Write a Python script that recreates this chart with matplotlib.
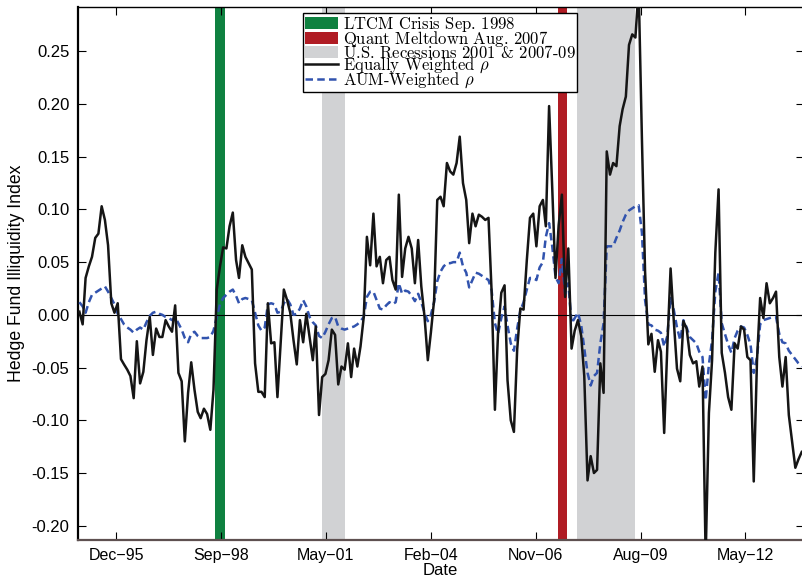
import numpy as np
import pandas as pd
import matplotlib
matplotlib.use('Agg')
from matplotlib import pyplot as plt
from matplotlib.patches import Patch
from matplotlib.lines import Line2D

plt.rcParams['font.family'] = ['Liberation Sans', 'DejaVu Sans']
plt.rcParams['mathtext.fontset'] = 'cm'
plt.rcParams['axes.unicode_minus'] = False

# monthly illiquidity index, first observation end of Dec 1994
first_month = '1994-12-31'

eq_rho = [
    0.003, -0.009, 0.035, 0.046, 0.055, 0.073, 0.077, 0.103, 0.090, 0.066,
    0.011, 0.002, 0.011, -0.042, -0.047, -0.052, -0.058, -0.079, -0.025, -0.065,
    -0.054, -0.024, -0.002, -0.038, -0.013, -0.021, -0.021, -0.005, -0.011, -0.016,
    0.009, -0.055, -0.063, -0.120, -0.074, -0.045, -0.071, -0.092, -0.098, -0.089,
    -0.094, -0.109, -0.071, 0.024, 0.046, 0.064, 0.063, 0.084, 0.097, 0.052,
    0.035, 0.066, 0.055, 0.049, 0.043, -0.046, -0.073, -0.073, -0.078, 0.011,
    -0.027, -0.026, -0.078, -0.026, 0.024, 0.014, 0.002, -0.024, -0.047, -0.005,
    -0.026, 0.001, -0.021, -0.043, -0.011, -0.095, -0.059, -0.056, -0.043, -0.014,
    -0.019, -0.066, -0.049, -0.052, -0.027, -0.059, -0.032, -0.049, -0.030, -0.002,
    0.074, 0.047, 0.096, 0.046, 0.055, 0.030, 0.052, 0.055, 0.033, 0.024,
    0.114, 0.036, 0.063, 0.074, 0.063, 0.030, 0.071, 0.027, -0.002, -0.043,
    -0.017, 0.014, 0.109, 0.112, 0.103, 0.144, 0.136, 0.133, 0.144, 0.169,
    0.125, 0.109, 0.068, 0.096, 0.084, 0.095, 0.093, 0.090, 0.092, 0.021,
    -0.090, -0.017, 0.021, 0.028, -0.062, -0.100, -0.111, -0.033, 0.006, 0.005,
    0.052, 0.092, 0.096, 0.065, 0.103, 0.109, 0.084, 0.198, 0.120, 0.035,
    0.085, 0.114, 0.017, 0.063, -0.032, -0.015, -0.005, -0.020, -0.058, -0.157,
    -0.134, -0.150, -0.147, -0.046, -0.074, 0.155, 0.133, 0.144, 0.141, 0.179,
    0.195, 0.207, 0.256, 0.266, 0.263, 0.310, 0.167, 0.041, -0.028, -0.018,
    -0.054, -0.024, -0.035, -0.112, -0.030, 0.044, -0.005, -0.051, -0.063, -0.006,
    -0.013, -0.038, -0.046, -0.044, -0.068, -0.049, -0.230, -0.093, -0.043, 0.059,
    0.119, -0.036, -0.055, -0.078, -0.090, -0.027, -0.032, -0.011, -0.014, -0.040,
    -0.043, -0.158, -0.043, 0.016, -0.003, 0.030, 0.011, 0.016, 0.022, -0.040,
    -0.068, -0.040, -0.095, -0.120, -0.145, -0.137, -0.130,
]

aum_rho = [
    0.012, 0.008, 0.002, 0.012, 0.019, 0.021, 0.023, 0.025, 0.027, 0.022,
    0.016, 0.010, 0.001, -0.004, -0.009, -0.012, -0.014, -0.017, -0.014, -0.012,
    -0.014, -0.007, -0.001, 0.002, 0.003, 0.001, 0.000, -0.002, -0.003, -0.005,
    -0.002, -0.008, -0.014, -0.022, -0.026, -0.018, -0.016, -0.020, -0.022, -0.022,
    -0.022, -0.021, -0.015, -0.002, 0.010, 0.016, 0.019, 0.022, 0.024, 0.018,
    0.011, 0.015, 0.016, 0.015, 0.014, 0.002, -0.010, -0.015, -0.012, 0.010,
    0.011, 0.010, 0.002, 0.003, 0.011, 0.015, 0.010, 0.000, 0.001, 0.006,
    0.014, 0.008, -0.002, -0.007, -0.010, -0.020, -0.022, -0.016, -0.009, -0.003,
    -0.002, -0.011, -0.013, -0.014, -0.013, -0.012, -0.011, -0.009, -0.006, -0.002,
    0.017, 0.022, 0.022, 0.014, 0.006, 0.005, 0.009, 0.012, 0.010, 0.012,
    0.030, 0.020, 0.023, 0.022, 0.018, 0.013, 0.020, 0.012, 0.002, -0.006,
    0.000, 0.012, 0.032, 0.041, 0.046, 0.049, 0.049, 0.050, 0.050, 0.059,
    0.046, 0.040, 0.026, 0.033, 0.040, 0.039, 0.037, 0.035, 0.033, 0.023,
    -0.008, -0.018, -0.003, 0.008, -0.010, -0.027, -0.034, -0.013, 0.004, 0.012,
    0.024, 0.035, 0.035, 0.033, 0.045, 0.050, 0.074, 0.087, 0.065, 0.036,
    0.030, 0.053, 0.020, 0.030, -0.008, -0.003, 0.002, -0.010, -0.032, -0.055,
    -0.067, -0.058, -0.055, -0.027, -0.008, 0.065, 0.065, 0.065, 0.073, 0.080,
    0.088, 0.095, 0.099, 0.101, 0.103, 0.104, 0.078, 0.014, -0.009, -0.010,
    -0.014, -0.015, -0.017, -0.030, -0.020, 0.017, 0.005, -0.012, -0.024, -0.005,
    -0.012, -0.021, -0.024, -0.027, -0.035, -0.040, -0.081, -0.047, -0.024, 0.022,
    0.040, -0.008, -0.018, -0.028, -0.036, -0.022, -0.015, -0.011, -0.012, -0.019,
    -0.028, -0.055, -0.040, -0.009, -0.005, -0.004, -0.003, -0.002, -0.002, -0.018,
    -0.026, -0.027, -0.034, -0.038, -0.042, -0.046, -0.049,
]

# event windows
ltcm = ('1998-07-16', '1998-10-18')
quant = ('2007-06-27', '2007-09-21')
recessions = [('2001-04-29', '2001-12-04'), ('2007-12-19', '2009-06-26')]

tick_labels = ['Dec\u221295', 'Sep\u221298', 'May\u221201', 'Feb\u221204',
               'Nov\u221206', 'Aug\u221209', 'May\u221212']
# every label goes through mathtext so the rows are sized like TeX would
legend_labels = [r'LTCM Crisis Sep. $1998$', r'Quant Meltdown Aug. $2007$',
                 r'U.S. Recessions 2001 & 2007-0$9$',
                 r'Equally Weighted $\rho$', r'AUM-Weighted $\rho$']

GREEN = '#0f8140'
RED = '#b01c24'
GREY = '#d1d2d4'
BLUE = '#3153ae'
BLACK = '#151515'
DASH = (0, (3.0, 1.7))

dates = pd.date_range(first_month, periods=len(eq_rho), freq='ME')
ts = lambda s: pd.Timestamp(s)

fig = plt.figure(figsize=(8.02, 5.80), dpi=100)
ax = fig.add_axes([0.0969, 0.0690, 0.9050, 0.9190])

# shaded windows, recessions drawn month by month
for a, b in recessions:
    a, b = ts(a), ts(b)
    edges = [a] + [d for d in pd.date_range(a, b, freq='MS')] + [b]
    for lo, hi in zip(edges[:-1], edges[1:]):
        if hi > lo:
            ax.axvspan(lo, hi, color=GREY, lw=0, zorder=1)
ax.axvspan(ts(ltcm[0]), ts(ltcm[1]), color=GREEN, lw=0, zorder=1)
ax.axvspan(ts(quant[0]), ts(quant[1]), color=RED, lw=0, zorder=1)

ax.axhline(0, color='black', lw=0.8, zorder=2)
ax.plot(dates, aum_rho, color=BLUE, lw=1.8, ls=DASH, zorder=3)
ax.plot(dates, eq_rho, color=BLACK, lw=1.8, zorder=4)

ax.set_xlim(ts('1994-12-15'), ts('2013-11-17'))
ax.set_ylim(-0.2135, 0.292)

tick_dates = pd.date_range('1995-12-15', periods=len(tick_labels), freq='999D')
ax.set_xticks(tick_dates)
ax.set_xticklabels(tick_labels)
yt = np.round(np.arange(-0.20, 0.26, 0.05), 2)
ax.set_yticks(yt)
ax.set_yticklabels(['%.2f' % (v + 0.0) for v in yt])
ax.tick_params(direction='in', length=5.5, width=0.8, labelsize=11.5,
               top=True, right=True, pad=6)
ax.tick_params(axis='y', labelsize=12)

ax.set_xlabel('Date', fontsize=12, labelpad=0)
ax.set_ylabel('Hedge Fund Illiquidity Index', fontsize=12.7, labelpad=5)

ax.spines['left'].set_linewidth(1.6)
ax.spines['top'].set_linewidth(1.0)
ax.spines['bottom'].set_linewidth(1.6)
ax.spines['bottom'].set_color('#5e5050')

handles = [Patch(facecolor=GREEN), Patch(facecolor=RED), Patch(facecolor=GREY),
           Line2D([], [], color=BLACK, lw=1.8),
           Line2D([], [], color=BLUE, lw=1.8, ls=DASH)]
leg = ax.legend(handles, legend_labels, loc='upper left',
                bbox_to_anchor=(0.3104, 0.9887), borderaxespad=0,
                prop={'family': 'cmr10', 'size': 12}, labelspacing=-0.3,
                handlelength=2.0, handleheight=0.7, handletextpad=0.25,
                borderpad=0.12, fancybox=False, framealpha=1)
leg.get_frame().set_edgecolor('black')
leg.get_frame().set_linewidth(1.0)
leg.set_zorder(10)

fig.savefig('out.png', dpi=100)
